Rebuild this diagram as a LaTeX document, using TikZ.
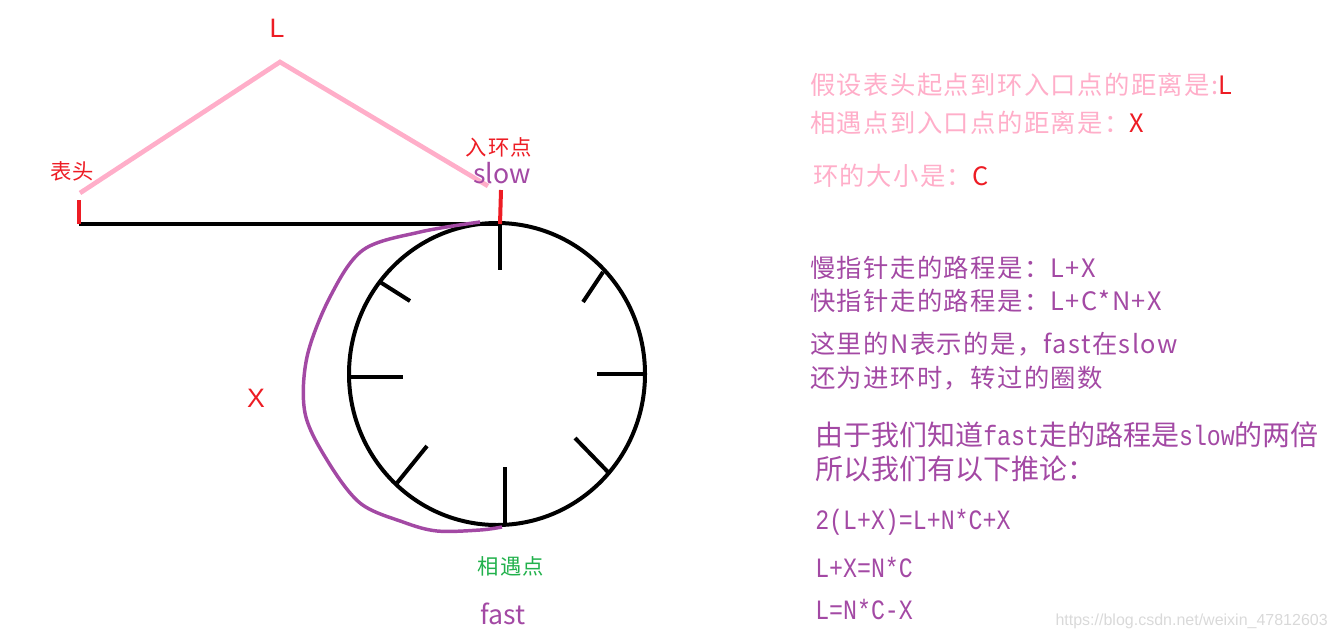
\documentclass[tikz,border=0pt]{standalone}
\usepackage{fontspec}
\newfontfamily\cjk{Noto Sans CJK SC}
\newfontfamily\cjkwide[LetterSpace=5.5]{Noto Sans CJK SC}
\newfontfamily\cjkmono[FakeStretch=0.83]{Liberation Mono}
\newfontfamily\sans{Liberation Sans}
\definecolor{paintred}{HTML}{ED1C24}
\definecolor{paintpink}{HTML}{FFAEC9}
\definecolor{paintpurple}{HTML}{A349A4}
\definecolor{paintgreen}{HTML}{22B14C}
\definecolor{markgray}{HTML}{D9D9D9}
\tikzset{
  ring/.style={line width=3pt, black},
  redmark/.style={line width=3pt, paintred},
  pinkline/.style={line width=3.5pt, paintpink},
  walk/.style={line width=2.6pt, paintpurple, line join=round},
  lbl/.style={inner sep=0pt, font=\cjk\fontsize{20pt}{24pt}\selectfont},
  small/.style={inner sep=0pt, font=\cjkwide\fontsize{16pt}{19pt}\selectfont},
  note/.style={inner sep=0pt, anchor=west, font=\cjkwide\fontsize{19pt}{23pt}\selectfont},
  bignote/.style={inner sep=0pt, anchor=west, text=paintpurple, font=\cjk\fontsize{21pt}{25pt}\selectfont},
  eq/.style={inner sep=0pt, anchor=west, text=paintpurple, font=\cjkmono\fontsize{21pt}{25pt}\selectfont}
}

\begin{document}
\begin{tikzpicture}[x=0.75pt, y=-0.75pt]
    \useasboundingbox (0,0) rectangle (1337,639);

      % list head and entry point
      \coordinate (head) at (79,224);
      \coordinate (headtop) at (79,200);
      \coordinate (entry) at (500,224);
      \coordinate (entrytop) at (501,190);

      % the L bracket
      \coordinate (pinkL) at (80,193);
      \coordinate (apex) at (280,62);
      \coordinate (pinkR) at (488,186);
      \draw[pinkline] (pinkL) -- (apex) -- (pinkR);

      % straight part of the list
      \draw[ring] (head) -- (entry);

      % the ring
      \draw[ring] (497,374) ellipse (148 and 151);

      % ticks round the ring
      \foreach \xa/\ya/\xb/\yb in {
        500/223/500/270,
        603/272/583/302,
        597/374/645/374,
        575/438/608/472,
        505/467/505/525,
        427/446/397/483,
        349/377/403/377,
        380/282/410/301
      }{
        \draw[ring] (\xa,\ya) -- (\xb,\yb);
      }

      % red marks
      \draw[redmark] (headtop) -- (head);
      \draw[redmark] (entrytop) -- (entry);

      % path of slow from entry to the meeting point
      \draw[walk] plot[smooth, tension=0.55] coordinates {
        (480,222) (420,232) (363,250) (330,297) (307,357) (305,413)
        (327,460) (360,503) (403,522) (437,531) (480,530) (502,527)
      };

      % labels on the drawing
      \node[lbl, text=paintred, font=\sans\fontsize{20pt}{24pt}\selectfont] (lenL) at (277,28) {L};
      \node[small, text=paintred] (headlbl) at (72,171) {表头};
      \node[small, text=paintred] (entrylbl) at (499,147) {入环点};
      \node[lbl, text=paintpurple] (slowlbl) at (502,173) {slow};
      \node[lbl, text=paintred, font=\sans\fontsize{20pt}{24pt}\selectfont] (xlbl) at (256,398) {X};
      \node[small, text=paintgreen] (meetlbl) at (511,566) {相遇点};
      \node[lbl, text=paintpurple] (fastlbl) at (503,614) {fast};

      % definitions
      \node[note, text=paintpink] (defL) at (810,85) {假设表头起点到环入口点的距离是:\textcolor{paintred}{L}};
      \node[note, text=paintpink] (defX) at (810,123) {相遇点到入口点的距离是：\textcolor{paintred}{X}};
      \node[note, text=paintpink] (defC) at (813,176) {环的大小是：\textcolor{paintred}{C}};

      % distances
      \node[note, text=paintpurple] (slowpath) at (810,268) {慢指针走的路程是：L+X};
      \node[note, text=paintpurple] (fastpath) at (810,301) {快指针走的路程是：L+C*N+X};
      \node[note, text=paintpurple] (noteN) at (810,344) {这里的N表示的是，fast在slow};
      \node[note, text=paintpurple] (noteNb) at (810,378) {还为进环时，转过的圈数};

      % reasoning
      \node[bignote] (twice) at (815,435) {由于我们知道{\cjkmono fast}走的路程是{\cjkmono slow}的两倍};
      \node[bignote] (hence) at (815,469) {所以我们有以下推论：};
      \node[eq] (eqA) at (815,522) {2(L+X)=L+N*C+X};
      \node[eq] (eqB) at (815,567) {L+X=N*C};
      \node[eq] (eqC) at (815,609) {L=N*C-X};

      \node[inner sep=0pt, anchor=east, text=markgray, font=\sans\fontsize{12pt}{14pt}\selectfont] (mark) at (1328,621) {https://blog.csdn.net/weixin\_47812603};

    \end{tikzpicture}
\end{document}
